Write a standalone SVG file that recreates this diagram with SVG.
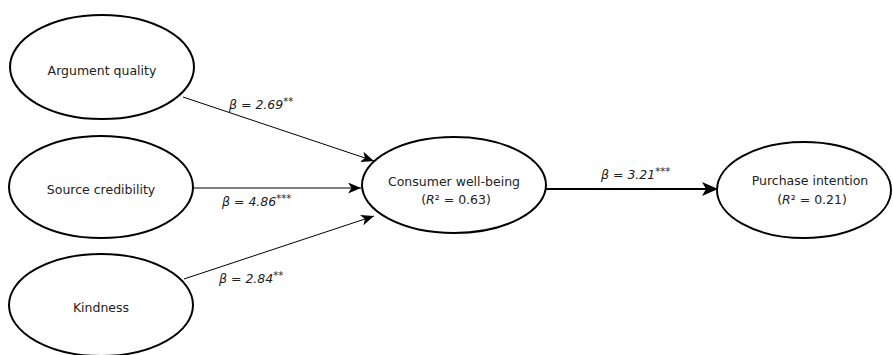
<svg xmlns="http://www.w3.org/2000/svg" width="893" height="355" viewBox="0 0 893 355">
<style>
.node{fill:#fff;stroke:#000;stroke-width:2}
.t{font-family:"DejaVu Sans",Verdana,sans-serif;font-size:12.5px;fill:#222;text-anchor:middle}
.lab{font-family:"DejaVu Sans",Verdana,sans-serif;font-size:12.5px;fill:#222;font-style:italic}
.sup{font-size:10px}
.e{stroke:#000;stroke-width:1;fill:none}
.e2{stroke:#000;stroke-width:2.2;fill:none}
</style>
<defs>
<marker id="ah" viewBox="0 0 13 11" refX="13" refY="5.5" markerWidth="13" markerHeight="11" markerUnits="userSpaceOnUse" orient="auto">
<path d="M0,0 L13,5.5 L0,11 L3.5,5.5 Z" fill="#000"/>
</marker>
<marker id="ah2" viewBox="0 0 16 14" refX="16" refY="7" markerWidth="16" markerHeight="14" markerUnits="userSpaceOnUse" orient="auto">
<path d="M0,0 L16,7 L0,14 L4,7 Z" fill="#000"/>
</marker>
</defs>
<g id="connectors">
<line class="e" x1="183" y1="97" x2="374" y2="161" marker-end="url(#ah)"/>
<line class="e" x1="194" y1="188" x2="361" y2="188" marker-end="url(#ah)"/>
<line class="e" x1="184" y1="279" x2="374" y2="216" marker-end="url(#ah)"/>
<line class="e2" x1="545" y1="189" x2="718" y2="189" marker-end="url(#ah2)"/>
<text class="lab" x="229" y="109">β = 2.69<tspan class="sup" dy="-4">**</tspan></text>
<text class="lab" x="222" y="206">β = 4.86<tspan class="sup" dy="-4">***</tspan></text>
<text class="lab" x="219" y="283">β = 2.84<tspan class="sup" dy="-4">**</tspan></text>
<text class="lab" x="601" y="179">β = 3.21<tspan class="sup" dy="-4">***</tspan></text>
</g>
<g id="argument-quality">
<ellipse class="node" cx="102" cy="67" rx="92" ry="52"/>
<text class="t" x="102" y="75">Argument quality</text>
</g>
<g id="source-credibility">
<ellipse class="node" cx="101" cy="187" rx="92" ry="51"/>
<text class="t" x="101" y="194">Source credibility</text>
</g>
<g id="kindness">
<ellipse class="node" cx="101" cy="305" rx="92" ry="51"/>
<text class="t" x="101" y="312">Kindness</text>
</g>
<g id="consumer-well-being">
<ellipse class="node" cx="454" cy="185" rx="92" ry="48"/>
<text class="t" x="454" y="186">Consumer well-being</text>
<text class="t" x="456" y="204">(<tspan font-style="italic">R</tspan>² = 0.63)</text>
</g>
<g id="purchase-intention">
<ellipse class="node" cx="804" cy="190" rx="87" ry="48"/>
<text class="t" x="810" y="185">Purchase intention</text>
<text class="t" x="812" y="204">(<tspan font-style="italic">R</tspan>² = 0.21)</text>
</g>
</svg>
